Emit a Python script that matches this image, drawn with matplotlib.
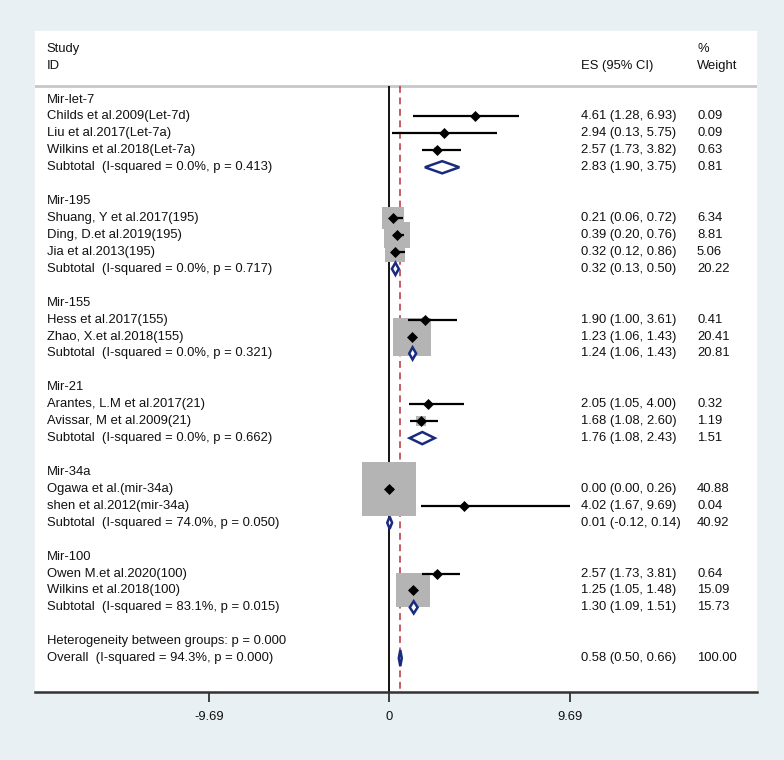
import matplotlib
matplotlib.use("Agg")
import matplotlib.pyplot as plt
from matplotlib.patches import Polygon

plt.rcParams['font.family'] = ['Liberation Sans', 'DejaVu Sans']

# ---------------- data ----------------
groups = ["Mir-let-7", "Mir-195", "Mir-155", "Mir-21", "Mir-34a", "Mir-100"]
study_labels = [
    ["Childs et al.2009(Let-7d)", "Liu et al.2017(Let-7a)", "Wilkins et al.2018(Let-7a)"],
    ["Shuang, Y et al.2017(195)", "Ding, D.et al.2019(195)", "Jia et al.2013(195)"],
    ["Hess et al.2017(155)", "Zhao, X.et al.2018(155)"],
    ["Arantes, L.M et al.2017(21)", "Avissar, M et al.2009(21)"],
    ["Ogawa et al.(mir-34a)", "shen et al.2012(mir-34a)"],
    ["Owen M.et al.2020(100)", "Wilkins et al.2018(100)"],
]
study_es = [[4.61, 2.94, 2.57], [0.21, 0.39, 0.32], [1.90, 1.23], [2.05, 1.68], [0.00, 4.02], [2.57, 1.25]]
study_lo = [[1.28, 0.13, 1.73], [0.06, 0.20, 0.12], [1.00, 1.06], [1.05, 1.08], [0.00, 1.67], [1.73, 1.05]]
study_hi = [[6.93, 5.75, 3.82], [0.72, 0.76, 0.86], [3.61, 1.43], [4.00, 2.60], [0.26, 9.69], [3.81, 1.48]]
study_w = [[0.09, 0.09, 0.63], [6.34, 8.81, 5.06], [0.41, 20.41], [0.32, 1.19], [40.88, 0.04], [0.64, 15.09]]

sub_i2 = ["0.0", "0.0", "0.0", "0.0", "74.0", "83.1"]
sub_p = ["0.413", "0.717", "0.321", "0.662", "0.050", "0.015"]
sub_es = [2.83, 0.32, 1.24, 1.76, 0.01, 1.30]
sub_lo = [1.90, 0.13, 1.06, 1.08, -0.12, 1.09]
sub_hi = [3.75, 0.50, 1.43, 2.43, 0.14, 1.51]
sub_w = [0.81, 20.22, 20.81, 1.51, 40.92, 15.73]

het_p = "0.000"
overall_i2 = "94.3"
overall_p = "0.000"
overall_es, overall_lo, overall_hi, overall_w = 0.58, 0.50, 0.66, 100.00

xticks = [-9.69, 0, 9.69]
xticklabels = ["-9.69", "0", "9.69"]

# ---------------- style ----------------
BG = '#e8f0f3'
NAVY = '#1a2a80'
RED = '#b5323c'
GRAY = '#b4b4b4'
FS = 9.4

fig = plt.figure(figsize=(7.84, 7.6), dpi=100, facecolor=BG)
ax = fig.add_axes([35 / 784, 1 - 692 / 760, 722 / 784, 661 / 760])
ax.set_facecolor('white')
ax.set_xlim(-19.03, 19.73)
ax.set_ylim(36.0, -3.05)

tx = ax.get_yaxis_transform()  # x in axes fraction, y in data
X_STUDY, X_ES, X_W = 0.016, 0.7562, 0.9169

def txt(x, y, s):
    ax.text(x, y, s, transform=tx, ha='left', va='center', fontsize=FS, color='#111111')

# header
txt(X_STUDY, -2, "Study")
txt(X_STUDY, -1, "ID")
txt(X_ES, -1, "ES (95% CI)")
txt(X_W, -2, "%")
txt(X_W, -1, "Weight")
ax.axhline(0.2, color='#c8c8c8', lw=2.0, zorder=1)

# reference lines
ax.vlines(0, 0.2, 36.0, colors='black', lw=1.3, zorder=1)
ax.vlines(overall_es, 0.2, 36.0, colors=RED, lw=1.1, linestyles=(0, (4.5, 3)), zorder=1)

def diamond(es, lo, hi, row, h=0.36):
    poly = Polygon([(lo, row), (es, row - h), (hi, row), (es, row + h)], closed=True,
                   facecolor='white', edgecolor=NAVY, lw=1.8, joinstyle='miter', zorder=6)
    ax.add_patch(poly)

row = 1
for g in range(len(groups)):
    txt(X_STUDY, row, groups[g])
    row += 1
    for i in range(len(study_labels[g])):
        es, lo, hi, w = study_es[g][i], study_lo[g][i], study_hi[g][i], study_w[g][i]
        txt(X_STUDY, row, study_labels[g][i])
        txt(X_ES, row, f"{es:.2f} ({lo:.2f}, {hi:.2f})")
        txt(X_W, row, f"{w:.2f}")
        ax.scatter([es], [row], s=38 * w, marker='s', color=GRAY, linewidths=0, zorder=3)
        ax.hlines(row, lo, hi, colors='black', lw=1.6, zorder=4)
        ax.plot([es], [row], marker='D', ms=5.3, color='black', mew=0.5, zorder=5)
        row += 1
    txt(X_STUDY, row, f"Subtotal  (I-squared = {sub_i2[g]}%, p = {sub_p[g]})")
    txt(X_ES, row, f"{sub_es[g]:.2f} ({sub_lo[g]:.2f}, {sub_hi[g]:.2f})")
    txt(X_W, row, f"{sub_w[g]:.2f}")
    diamond(sub_es[g], sub_lo[g], sub_hi[g], row)
    row += 2

txt(X_STUDY, row, f"Heterogeneity between groups: p = {het_p}")
row += 1
txt(X_STUDY, row, f"Overall  (I-squared = {overall_i2}%, p = {overall_p})")
txt(X_ES, row, f"{overall_es:.2f} ({overall_lo:.2f}, {overall_hi:.2f})")
txt(X_W, row, f"{overall_w:.2f}")
diamond(overall_es, overall_lo, overall_hi, row, h=0.48)

# axes styling
for s in ['top', 'left', 'right']:
    ax.spines[s].set_visible(False)
ax.spines['bottom'].set_color('#333333')
ax.spines['bottom'].set_linewidth(1.8)
ax.set_yticks([])
ax.set_xticks(xticks)
ax.set_xticklabels(xticklabels)
ax.tick_params(axis='x', length=7.5, width=1.3, color='#333333', labelsize=FS, pad=6, labelcolor='#111111')

fig.savefig("out.png", dpi=100, facecolor=BG)
